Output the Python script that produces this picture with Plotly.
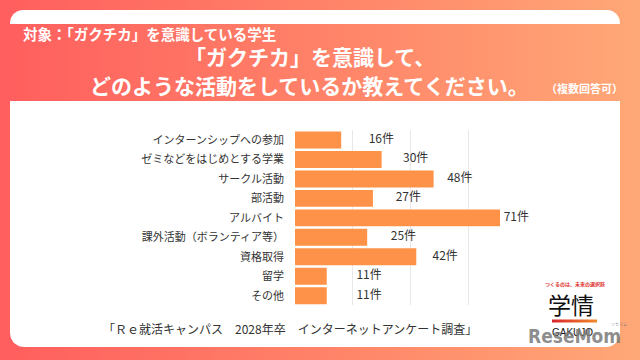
import numpy as np
import plotly.graph_objects as go

# ---- data ----
categories = ["インターンシップへの参加", "ゼミなどをはじめとする学業", "サークル活動", "部活動",
              "アルバイト", "課外活動（ボランティア等）", "資格取得", "留学", "その他"]
counts = [16, 30, 48, 27, 71, 25, 42, 11, 11]
value_labels = [f"{v}件" for v in counts]

subtitle = "対象：「ガクチカ」を意識している学生"
title_line1 = "「ガクチカ」を意識して、"
title_line2 = "どのような活動をしているか教えてください。"
title_note = "（複数回答可）"
footer = "「Ｒｅ就活キャンパス　2028年卒　インターネットアンケート調査」"

W, H = 640, 360
JP = "Noto Sans CJK JP, Noto Sans, sans-serif"
BAR = "#FF9249"


def rounded_rect(x0, y0, x1, y1, rtl=0, rtr=0, rbr=0, rbl=0, n=12):
    xs, ys = [], []

    def arc(cx, cy, r, a0, a1):
        t = np.linspace(a0, a1, n)
        return list(cx + r * np.cos(t)), list(cy + r * np.sin(t))

    for (cx, cy, r, a0, a1) in [
        (x0 + rtl, y0 + rtl, rtl, np.pi, 1.5 * np.pi),
        (x1 - rtr, y0 + rtr, rtr, 1.5 * np.pi, 2 * np.pi),
        (x1 - rbr, y1 - rbr, rbr, 0, 0.5 * np.pi),
        (x0 + rbl, y1 - rbl, rbl, 0.5 * np.pi, np.pi),
    ]:
        ax, ay = arc(cx, cy, r, a0, a1)
        xs += ax
        ys += ay
    xs.append(xs[0])
    ys.append(ys[0])
    return xs, ys


fig = go.Figure()

# background gradient
fig.add_trace(go.Scatter(
    x=[0, W, W, 0, 0], y=[0, 0, H, H, 0], mode="lines", fill="toself",
    line=dict(width=0), hoverinfo="skip", showlegend=False,
    fillgradient=dict(type="horizontal",
                      colorscale=[[0, "#FF5E5E"], [0.5, "#FF8268"], [1, "#FFA877"]]),
    xaxis="x", yaxis="y"))

# white card pieces
for (x0, y0, x1, y1, r_top, r_bot) in [(10, 10, 620, 24, 13, 0), (10, 101, 620, 347, 0, 14)]:
    xs, ys = rounded_rect(x0, y0, x1, y1, r_top, r_top, r_bot, r_bot)
    fig.add_trace(go.Scatter(x=xs, y=ys, mode="lines", fill="toself", fillcolor="white",
                             line=dict(width=0), hoverinfo="skip", showlegend=False,
                             xaxis="x", yaxis="y"))

# logo red line
fig.add_trace(go.Scatter(
    x=[552, 597, 597, 552, 552], y=[319.5, 319.5, 322.5, 322.5, 319.5], mode="lines",
    fill="toself", line=dict(width=0), hoverinfo="skip", showlegend=False,
    fillgradient=dict(type="horizontal", colorscale=[[0, "#D9252B"], [1, "#F2892A"]]),
    xaxis="x", yaxis="y"))

# bars
fig.add_trace(go.Bar(
    x=counts, y=categories, orientation="h", marker=dict(color=BAR, line=dict(width=0)),
    xaxis="x2", yaxis="y2", hoverinfo="skip", showlegend=False))

# value labels
fig.add_trace(go.Scatter(
    x=[v * 0.85 + 16.3 for v in counts], y=categories, mode="text", text=value_labels,
    textposition="middle center", textfont=dict(family=JP, size=12, color="#333333"),
    cliponaxis=False, xaxis="x2", yaxis="y2", hoverinfo="skip", showlegend=False))

ann = []


def txt(x, y, s, size, color="white", xanchor="left", family=JP, bold=True):
    ann.append(dict(x=x, y=y, xref="x", yref="y", text=f"<b>{s}</b>" if bold else s,
                    showarrow=False, xanchor=xanchor, yanchor="middle",
                    font=dict(family=family, size=size, color=color)))


txt(21, 33, subtitle, 14.5)
txt(310, 56, title_line1, 21, xanchor="center")
txt(309, 85, title_line2, 21, xanchor="center")
txt(544, 88, title_note, 11)
txt(101, 328, footer, 12, color="#333333", bold=False)
txt(543, 284, "つくるのは、未来の選択肢", 5, color="#E0342F")
txt(571, 304, "学情", 23, color="#111111", xanchor="center", bold=False)
txt(572, 332, "GAKUJO", 10, color="#111111", xanchor="center", family="Liberation Sans, sans-serif", bold=False)
txt(574, 336, "ReseMom", 19, color="rgba(120,120,120,0.85)", xanchor="center",
    family="Liberation Sans Narrow, DejaVu Sans Condensed, sans-serif")
txt(609, 324, "リセマム", 4, color="rgba(120,120,120,0.85)", bold=False)

y_top, y_bot = 130.3, 305.4
fig.update_layout(
    width=W, height=H, margin=dict(l=0, r=0, t=0, b=0),
    paper_bgcolor="white", plot_bgcolor="rgba(0,0,0,0)",
    bargap=0.13, annotations=ann,
    xaxis=dict(domain=[0, 1], range=[0, W], visible=False, fixedrange=True),
    yaxis=dict(domain=[0, 1], range=[H, 0], visible=False, fixedrange=True),
    xaxis2=dict(domain=[295 / W, 526 / W], range=[0, 80], dtick=20, showgrid=True,
                gridcolor="#E8E8E8", gridwidth=1, zeroline=False, showticklabels=False,
                showline=False, anchor="y2", fixedrange=True),
    yaxis2=dict(domain=[1 - y_bot / H, 1 - y_top / H], autorange="reversed",
                type="category", showgrid=False, showline=False, anchor="x2",
                ticklabelstandoff=10, fixedrange=True,
                tickfont=dict(family=JP, size=11, color="#333333")),
)

fig.write_html("out.html", config={"displayModeBar": False},
               post_script="document.body.style.margin='0';")
